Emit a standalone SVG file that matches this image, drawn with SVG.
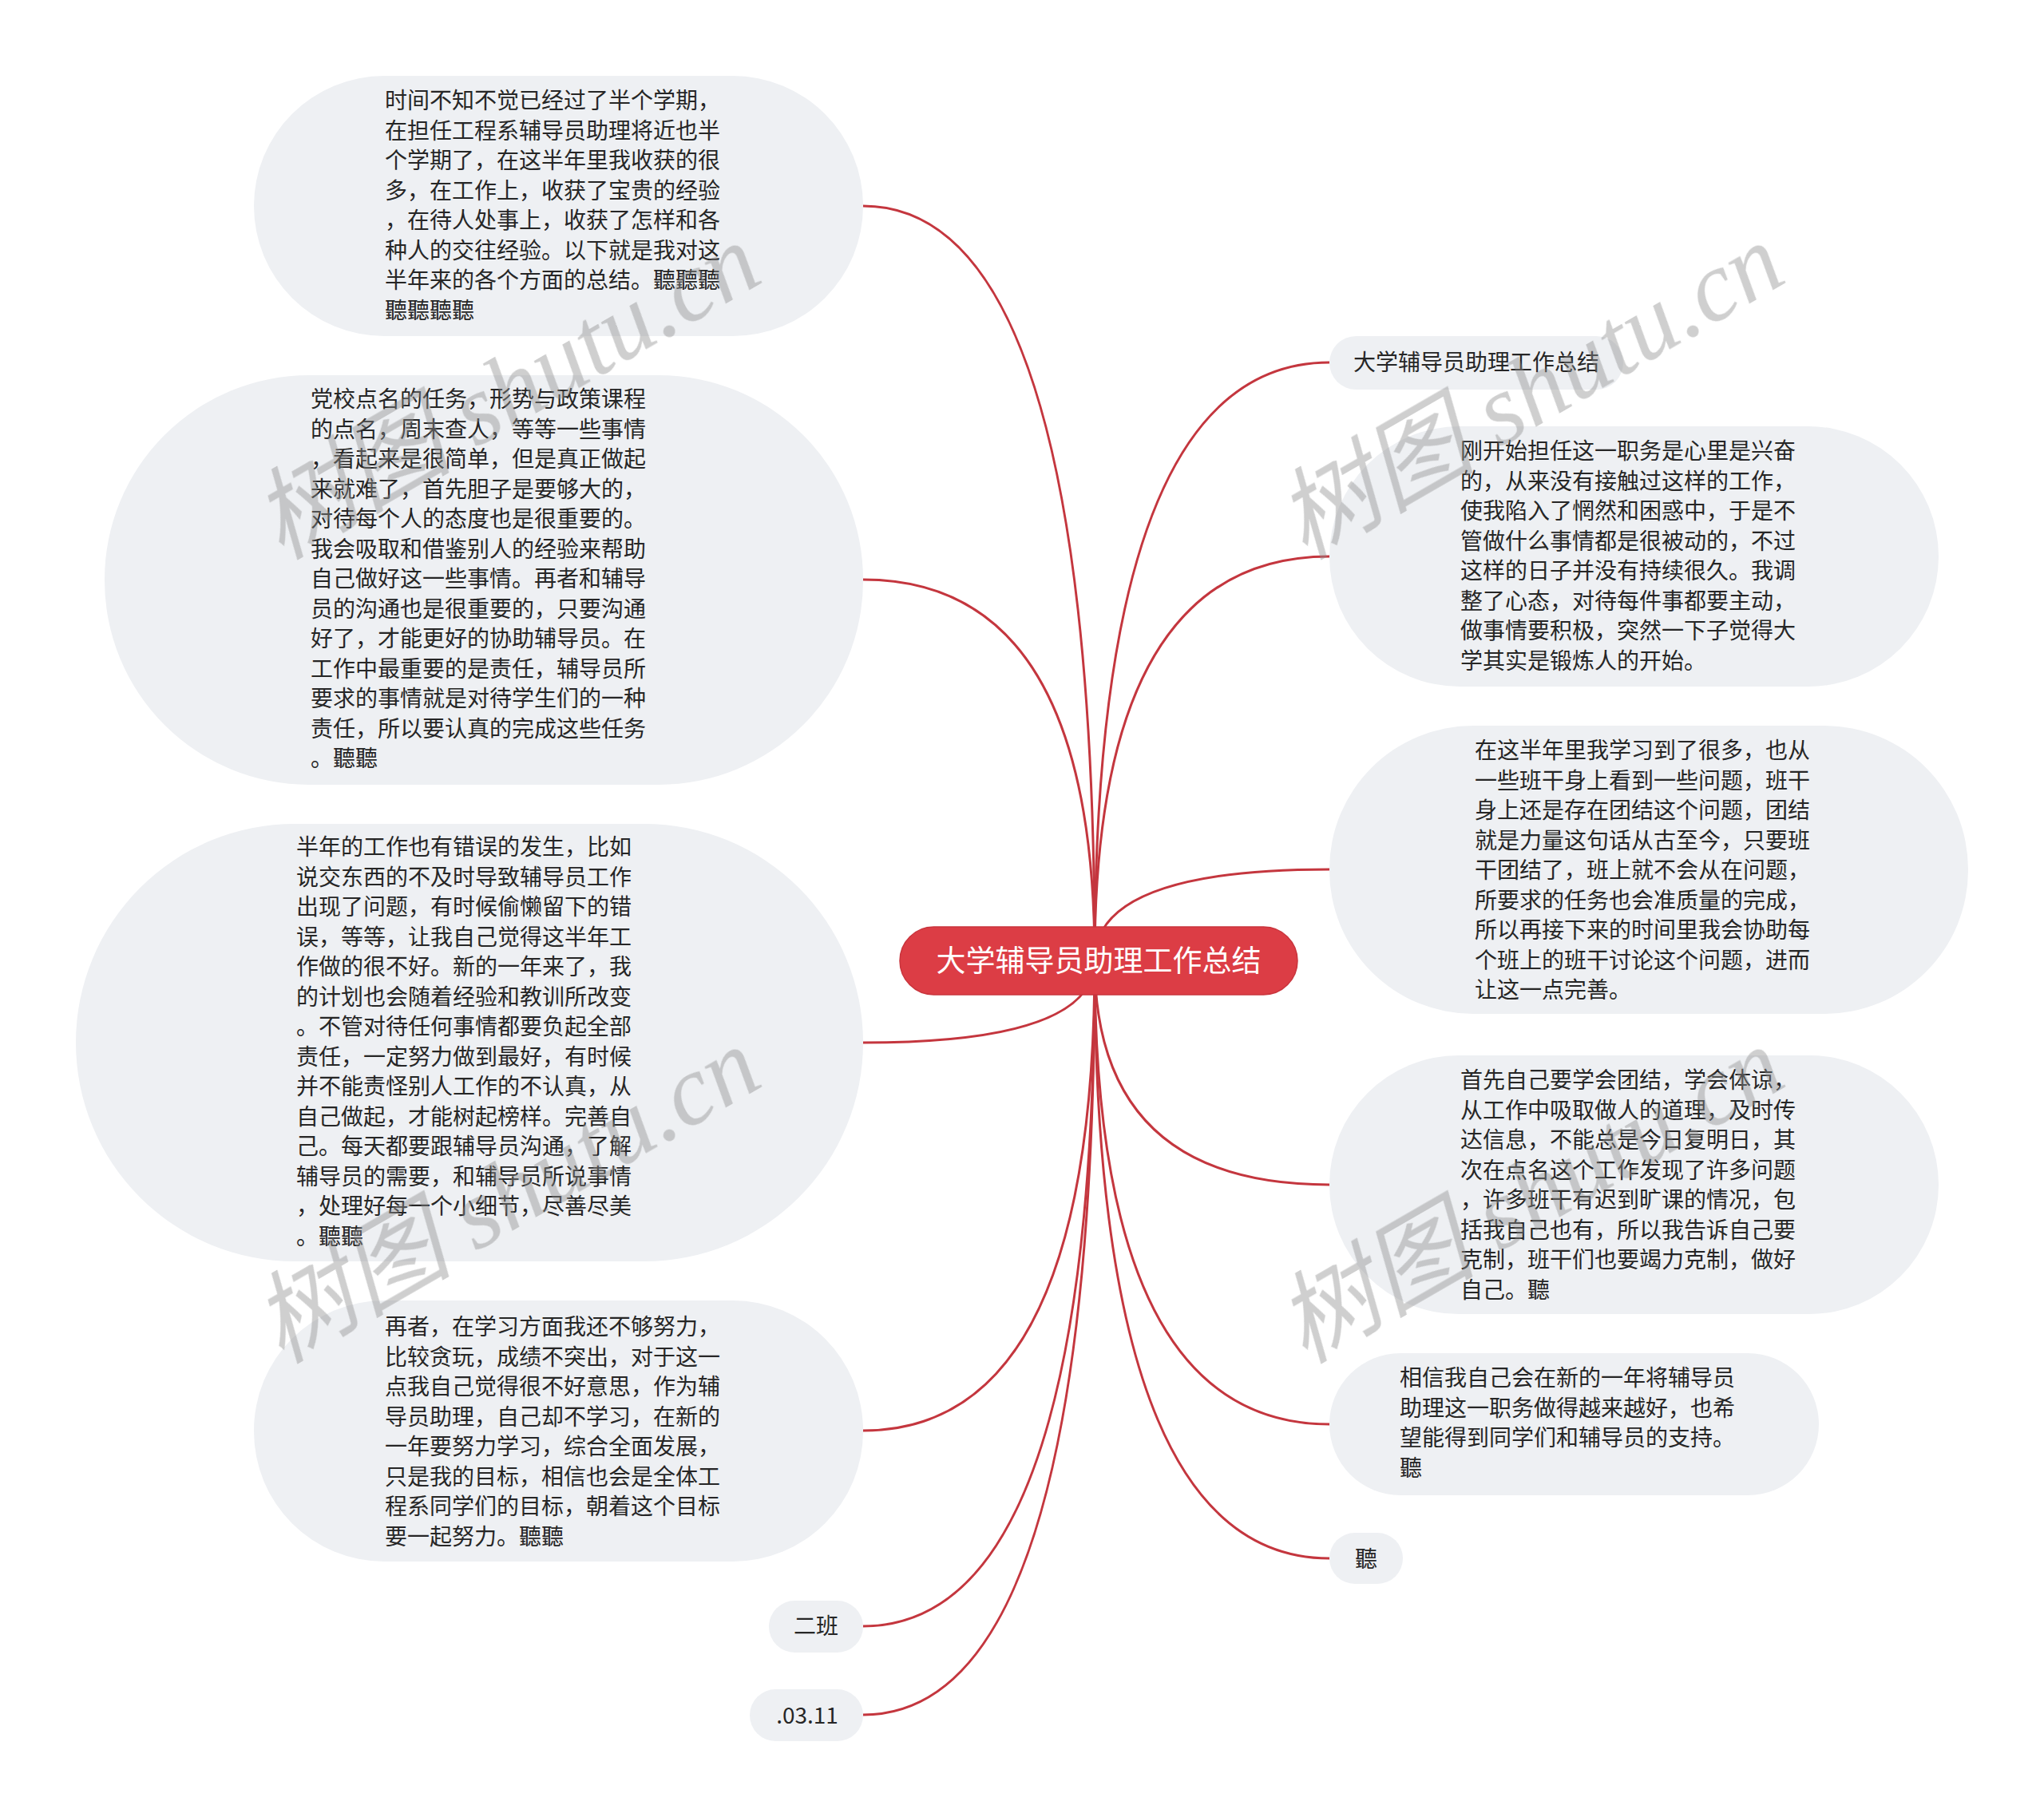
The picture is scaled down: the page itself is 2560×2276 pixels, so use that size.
<svg xmlns="http://www.w3.org/2000/svg" width="2560" height="2276" viewBox="0 0 2560 2276">
<style>
.node rect{fill:#eef0f3}
.t{font-family:"Noto Sans CJK SC","Noto Sans",sans-serif;font-size:28px;fill:#262626}
.c{text-anchor:middle}
.conn path{fill:none;stroke:#c4363e;stroke-width:3}
.root rect{fill:#dc3d45;stroke:#c9343c;stroke-width:1.5}
.rt{font-family:"Noto Sans CJK SC","Noto Sans",sans-serif;font-size:37px;fill:#ffffff;text-anchor:middle}
.wm{font-family:"Liberation Serif","Noto Sans CJK SC",serif;font-style:italic;font-size:125px;fill:#8c8c8c;opacity:.42}
</style>
<rect width="2560" height="2276" fill="#ffffff"/>
<g id="connectors" class="conn">
<path d="M1371 1203 Q1371 258 1081 258"/>
<path d="M1371 1203 Q1371 726 1081 726"/>
<path d="M1371 1203 Q1371 1306 1081 1306"/>
<path d="M1371 1203 Q1371 1792 1081 1792"/>
<path d="M1371 1203 Q1371 2037 1081 2037"/>
<path d="M1371 1203 Q1371 2148 1081 2148"/>
<path d="M1371 1203 Q1371 454 1665 454"/>
<path d="M1371 1203 Q1371 697 1665 697"/>
<path d="M1371 1203 Q1371 1089 1665 1089"/>
<path d="M1371 1203 Q1371 1484 1665 1484"/>
<path d="M1371 1203 Q1371 1784 1665 1784"/>
<path d="M1371 1203 Q1371 1952 1665 1952"/>
</g>
<g id="root" class="root">
<rect x="1127" y="1161" width="498" height="85" rx="42.5"/>
<text class="rt" x="1376" y="1217">大学辅导员助理工作总结</text>
</g>
<g id="n-l1" class="node">
<rect x="318" y="95" width="763" height="326" rx="163"/>
<text class="t"><tspan x="482" y="136">时间不知不觉已经过了半个学期，</tspan><tspan x="482" y="173.5">在担任工程系辅导员助理将近也半</tspan><tspan x="482" y="211">个学期了，在这半年里我收获的很</tspan><tspan x="482" y="248.5">多，在工作上，收获了宝贵的经验</tspan><tspan x="482" y="286">，在待人处事上，收获了怎样和各</tspan><tspan x="482" y="323.5">种人的交往经验。以下就是我对这</tspan><tspan x="482" y="361">半年来的各个方面的总结。聽聽聽</tspan><tspan x="482" y="398.5">聽聽聽聽</tspan></text>
</g>
<g id="n-l2" class="node">
<rect x="131" y="470" width="950" height="513" rx="256"/>
<text class="t"><tspan x="389" y="510">党校点名的任务，形势与政策课程</tspan><tspan x="389" y="547.5">的点名，周末查人，等等一些事情</tspan><tspan x="389" y="585">，看起来是很简单，但是真正做起</tspan><tspan x="389" y="622.5">来就难了，首先胆子是要够大的，</tspan><tspan x="389" y="660">对待每个人的态度也是很重要的。</tspan><tspan x="389" y="697.5">我会吸取和借鉴别人的经验来帮助</tspan><tspan x="389" y="735">自己做好这一些事情。再者和辅导</tspan><tspan x="389" y="772.5">员的沟通也是很重要的，只要沟通</tspan><tspan x="389" y="810">好了，才能更好的协助辅导员。在</tspan><tspan x="389" y="847.5">工作中最重要的是责任，辅导员所</tspan><tspan x="389" y="885">要求的事情就是对待学生们的一种</tspan><tspan x="389" y="922.5">责任，所以要认真的完成这些任务</tspan><tspan x="389" y="960">。聽聽</tspan></text>
</g>
<g id="n-l3" class="node">
<rect x="95" y="1032" width="986" height="548" rx="274"/>
<text class="t"><tspan x="371" y="1071">半年的工作也有错误的发生，比如</tspan><tspan x="371" y="1108.5">说交东西的不及时导致辅导员工作</tspan><tspan x="371" y="1146">出现了问题，有时候偷懒留下的错</tspan><tspan x="371" y="1183.5">误，等等，让我自己觉得这半年工</tspan><tspan x="371" y="1221">作做的很不好。新的一年来了，我</tspan><tspan x="371" y="1258.5">的计划也会随着经验和教训所改变</tspan><tspan x="371" y="1296">。不管对待任何事情都要负起全部</tspan><tspan x="371" y="1333.5">责任，一定努力做到最好，有时候</tspan><tspan x="371" y="1371">并不能责怪别人工作的不认真，从</tspan><tspan x="371" y="1408.5">自己做起，才能树起榜样。完善自</tspan><tspan x="371" y="1446">己。每天都要跟辅导员沟通，了解</tspan><tspan x="371" y="1483.5">辅导员的需要，和辅导员所说事情</tspan><tspan x="371" y="1521">，处理好每一个小细节，尽善尽美</tspan><tspan x="371" y="1558.5">。聽聽</tspan></text>
</g>
<g id="n-l4" class="node">
<rect x="318" y="1629" width="763" height="327" rx="163"/>
<text class="t"><tspan x="482" y="1672">再者，在学习方面我还不够努力，</tspan><tspan x="482" y="1709.5">比较贪玩，成绩不突出，对于这一</tspan><tspan x="482" y="1747">点我自己觉得很不好意思，作为辅</tspan><tspan x="482" y="1784.5">导员助理，自己却不学习，在新的</tspan><tspan x="482" y="1822">一年要努力学习，综合全面发展，</tspan><tspan x="482" y="1859.5">只是我的目标，相信也会是全体工</tspan><tspan x="482" y="1897">程系同学们的目标，朝着这个目标</tspan><tspan x="482" y="1934.5">要一起努力。聽聽</tspan></text>
</g>
<g id="n-l5" class="node">
<rect x="963" y="2005" width="118" height="65" rx="32.5"/>
<text class="t c" x="1022" y="2047">二班</text>
</g>
<g id="n-l6" class="node">
<rect x="939" y="2116" width="142" height="65" rx="32.5"/>
<text class="t c" x="1011" y="2159">.03.11</text>
</g>
<g id="n-r1" class="node">
<rect x="1665" y="421" width="368" height="67" rx="33.5"/>
<text class="t" x="1695" y="464">大学辅导员助理工作总结</text>
</g>
<g id="n-r2" class="node">
<rect x="1665" y="534" width="763" height="326" rx="163"/>
<text class="t"><tspan x="1829" y="575">刚开始担任这一职务是心里是兴奋</tspan><tspan x="1829" y="612.5">的，从来没有接触过这样的工作，</tspan><tspan x="1829" y="650">使我陷入了惘然和困惑中，于是不</tspan><tspan x="1829" y="687.5">管做什么事情都是很被动的，不过</tspan><tspan x="1829" y="725">这样的日子并没有持续很久。我调</tspan><tspan x="1829" y="762.5">整了心态，对待每件事都要主动，</tspan><tspan x="1829" y="800">做事情要积极，突然一下子觉得大</tspan><tspan x="1829" y="837.5">学其实是锻炼人的开始。</tspan></text>
</g>
<g id="n-r3" class="node">
<rect x="1665" y="909" width="800" height="361" rx="180"/>
<text class="t"><tspan x="1847" y="950">在这半年里我学习到了很多，也从</tspan><tspan x="1847" y="987.5">一些班干身上看到一些问题，班干</tspan><tspan x="1847" y="1025">身上还是存在团结这个问题，团结</tspan><tspan x="1847" y="1062.5">就是力量这句话从古至今，只要班</tspan><tspan x="1847" y="1100">干团结了，班上就不会从在问题，</tspan><tspan x="1847" y="1137.5">所要求的任务也会准质量的完成，</tspan><tspan x="1847" y="1175">所以再接下来的时间里我会协助每</tspan><tspan x="1847" y="1212.5">个班上的班干讨论这个问题，进而</tspan><tspan x="1847" y="1250">让这一点完善。</tspan></text>
</g>
<g id="n-r4" class="node">
<rect x="1665" y="1322" width="763" height="324" rx="162"/>
<text class="t"><tspan x="1829" y="1363">首先自己要学会团结，学会体谅，</tspan><tspan x="1829" y="1400.5">从工作中吸取做人的道理，及时传</tspan><tspan x="1829" y="1438">达信息，不能总是今日复明日，其</tspan><tspan x="1829" y="1475.5">次在点名这个工作发现了许多问题</tspan><tspan x="1829" y="1513">，许多班干有迟到旷课的情况，包</tspan><tspan x="1829" y="1550.5">括我自己也有，所以我告诉自己要</tspan><tspan x="1829" y="1588">克制，班干们也要竭力克制，做好</tspan><tspan x="1829" y="1625.5">自己。聽</tspan></text>
</g>
<g id="n-r5" class="node">
<rect x="1665" y="1695" width="613" height="178" rx="89"/>
<text class="t"><tspan x="1753" y="1736">相信我自己会在新的一年将辅导员</tspan><tspan x="1753" y="1773.5">助理这一职务做得越来越好，也希</tspan><tspan x="1753" y="1811">望能得到同学们和辅导员的支持。</tspan><tspan x="1753" y="1848.5">聽</tspan></text>
</g>
<g id="n-r6" class="node">
<rect x="1665" y="1920" width="92" height="64" rx="32"/>
<text class="t c" x="1711" y="1963">聽</text>
</g>
<g id="watermarks" class="wm">
<text transform="translate(352 702) rotate(-30)">树图 shutu.cn</text>
<text transform="translate(1634 702) rotate(-30)">树图 shutu.cn</text>
<text transform="translate(352 1709) rotate(-30)">树图 shutu.cn</text>
<text transform="translate(1634 1709) rotate(-30)">树图 shutu.cn</text>
</g>
</svg>
